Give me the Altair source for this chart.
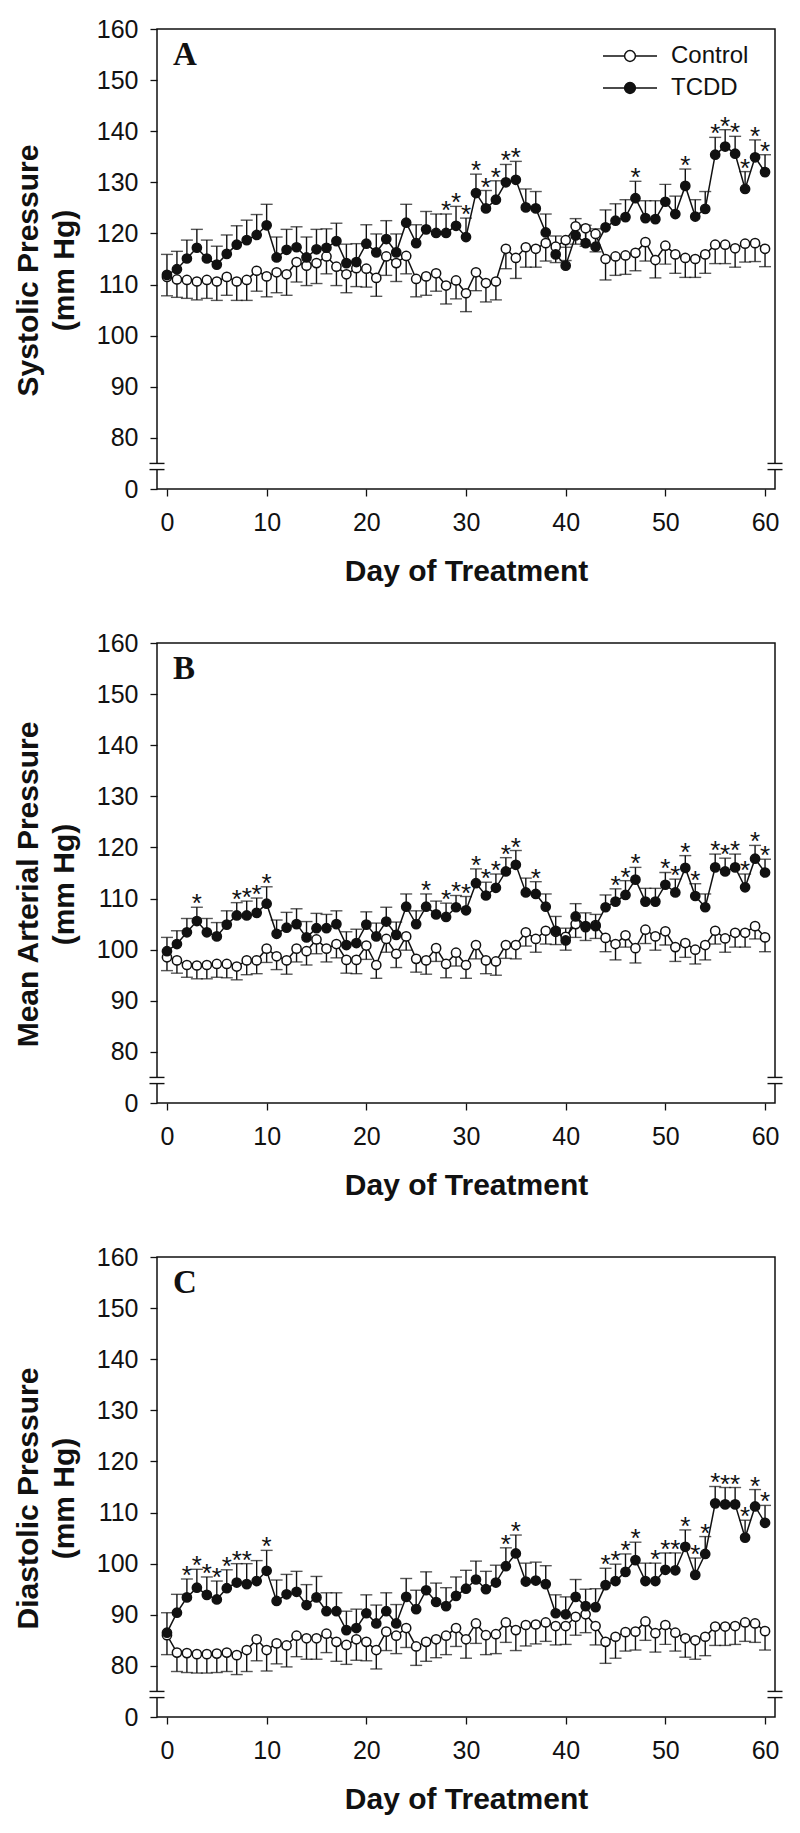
import altair as alt
import pandas as pd

days = list(range(61))

# ---- Panel A: systolic ----
A_tcdd = [111.9,113.0,115.1,117.2,115.1,113.9,116.0,117.8,118.7,119.7,121.6,
          115.3,116.8,117.3,115.3,116.9,117.2,118.5,114.2,114.4,118.0,
          116.3,118.9,116.3,122.1,118.1,120.8,120.1,120.1,121.5,119.3,
          127.9,124.9,126.6,130.0,130.5,125.1,124.9,120.2,115.9,113.7,
          119.6,118.1,117.4,121.2,122.5,123.2,126.9,123.0,122.8,126.2,
          123.8,129.3,123.3,124.8,135.4,137.0,135.6,128.7,134.9,132.0]
A_tcdd_se = [4.0,3.5,3.6,3.6,3.6,3.6,3.7,3.7,3.9,4.0,4.1,
             4.0,4.0,4.0,4.0,3.9,3.7,3.5,3.7,3.6,3.7,
             3.6,3.6,3.6,3.6,3.6,3.5,3.7,3.7,3.8,3.7,
             3.7,3.5,3.7,3.5,3.6,3.6,3.3,3.6,3.6,3.6,
             3.3,3.5,3.5,3.4,3.3,3.4,3.3,3.4,3.6,3.4,
             3.5,3.3,3.3,3.4,3.4,3.3,3.4,3.4,3.4,3.4]
A_ctrl = [111.5,111.0,110.9,110.6,110.9,110.6,111.5,110.6,110.9,112.7,111.6,
          112.4,112.0,114.4,113.7,114.2,115.5,113.5,112.0,113.2,113.1,
          111.3,115.5,114.2,115.6,111.1,111.6,112.2,109.8,110.8,108.3,
          112.4,110.3,110.6,117.0,115.2,117.3,117.0,118.1,117.4,118.7,
          121.4,121.0,119.9,115.0,115.5,115.7,116.2,118.3,114.8,117.6,
          115.9,115.2,115.0,115.9,117.8,117.8,117.1,118.0,118.1,117.0]
A_ctrl_se = [3.7,3.5,3.6,3.6,3.6,3.7,3.6,3.7,4.0,4.0,4.0,
             4.0,4.1,3.9,3.9,4.0,3.4,3.7,3.6,3.6,3.6,
             3.6,3.7,3.6,3.5,3.5,3.7,3.5,3.6,3.6,3.6,
             3.6,3.7,3.6,3.9,4.0,3.9,3.6,3.5,3.1,4.0,
             3.5,3.5,3.5,4.1,3.7,3.7,3.5,3.7,3.5,3.6,
             3.7,3.8,3.6,3.7,3.7,3.7,3.7,3.6,3.6,3.5]
A_stars = [28,29,30,31,32,33,34,35,47,52,55,56,57,58,59,60]

# ---- Panel B: mean arterial ----
B_tcdd = [99.7,101.1,103.4,105.6,103.4,102.6,104.9,106.7,106.7,107.2,109.0,
          103.1,104.3,105.0,102.4,104.2,104.2,105.0,100.9,101.3,104.9,
          102.6,105.5,102.9,108.4,105.0,108.4,106.9,106.4,108.3,107.7,
          113.0,110.6,112.1,115.3,116.6,111.2,110.9,108.4,103.7,101.8,
          106.5,104.6,104.6,108.3,109.4,110.7,113.7,109.4,109.4,112.7,
          111.2,116.0,110.5,108.3,116.1,115.3,116.1,112.2,117.8,115.1]
B_tcdd_se = [2.7,2.6,2.7,2.7,2.7,2.7,2.7,2.5,2.8,2.9,3.3,
             2.7,3.0,3.0,3.1,2.9,2.7,2.6,2.6,2.7,2.5,
             2.6,2.8,2.5,2.5,2.6,2.5,2.6,2.7,2.3,2.7,
             2.8,2.6,2.7,2.7,2.8,2.8,2.4,2.5,2.8,2.4,
             2.5,2.6,2.3,2.4,2.5,2.8,2.4,2.6,2.6,2.4,
             2.6,2.4,2.4,2.6,2.6,2.6,2.6,2.6,2.6,2.6]
B_ctrl = [98.5,97.9,97.0,96.9,97.0,97.2,97.2,96.7,97.9,97.9,100.2,
          98.7,97.9,100.2,99.7,102.0,100.2,101.1,98.0,98.0,100.8,
          97.0,102.1,99.2,102.6,98.2,97.9,100.3,97.2,99.4,97.0,
          100.9,97.9,97.7,100.9,100.9,103.4,102.1,103.7,103.5,102.5,
          105.0,104.4,104.8,102.3,101.1,102.8,100.3,103.9,102.6,103.6,
          100.5,101.3,100.0,100.9,103.7,102.2,103.3,103.3,104.6,102.4]
B_ctrl_se = [2.6,2.5,2.4,2.6,2.7,2.6,2.7,2.6,2.8,2.6,2.7,
             2.6,2.7,2.6,2.7,2.8,2.6,2.7,2.6,2.7,2.7,
             2.6,2.6,2.7,2.7,2.6,2.7,2.6,2.7,2.6,2.6,
             2.7,2.6,2.7,2.6,2.7,2.7,2.6,2.6,2.5,2.6,
             2.6,2.6,2.6,2.7,3.1,2.3,2.9,2.7,2.7,2.7,
             2.8,2.8,2.8,2.9,2.6,2.7,2.8,2.8,2.5,2.8]
B_stars = [3,7,8,9,10,26,28,29,30,31,32,33,34,35,37,45,46,47,50,51,52,53,
           55,56,57,58,59,60]

# ---- Panel C: diastolic ----
C_tcdd = [86.5,90.4,93.4,95.3,93.9,93.0,95.2,96.3,96.0,96.6,98.6,
          92.7,94.0,94.5,91.9,93.4,90.7,90.7,87.0,87.4,90.3,
          88.3,90.7,88.3,93.5,91.1,94.8,92.5,91.7,93.7,95.1,
          96.9,95.0,96.3,99.5,102.0,96.5,96.7,96.0,90.3,90.1,
          93.5,91.7,91.5,95.8,96.6,98.4,100.7,96.6,96.6,98.8,
          98.7,103.3,97.8,101.9,111.8,111.6,111.6,105.1,111.2,108.0]
C_tcdd_se = [3.9,3.6,3.6,3.6,3.5,3.6,3.6,3.7,4.0,4.0,4.0,
             4.1,3.9,4.0,4.0,4.1,3.6,3.6,3.7,3.7,3.6,
             3.6,3.6,3.7,3.6,3.7,3.6,3.7,3.6,3.7,3.6,
             3.6,3.5,3.4,3.6,3.6,3.6,3.6,3.6,3.6,3.4,
             3.4,3.3,3.6,3.3,3.3,3.5,3.5,3.5,3.5,3.3,
             3.4,3.3,3.3,3.4,3.3,3.3,3.3,3.4,3.3,3.4]
C_ctrl = [86.0,82.6,82.5,82.3,82.3,82.4,82.6,82.1,83.1,85.2,83.1,
          84.4,84.0,85.9,85.4,85.4,86.3,84.7,84.1,85.2,84.7,
          83.1,86.7,85.9,87.4,83.8,84.7,85.2,85.9,87.4,85.2,
          88.3,86.0,86.2,88.5,87.0,88.0,88.1,88.5,87.8,87.8,
          89.6,90.1,87.8,84.7,85.7,86.6,86.7,88.7,86.4,88.0,
          86.5,85.4,85.0,85.7,87.7,87.7,87.8,88.5,88.3,86.8]
C_ctrl_se = [3.8,3.7,3.8,3.7,3.7,3.7,3.7,3.8,4.2,4.2,4.1,
             4.0,4.2,4.1,4.1,4.1,3.7,3.8,3.8,4.1,3.7,
             3.7,3.7,3.5,3.8,3.7,3.8,3.6,3.7,3.6,3.7,
             3.9,3.8,3.8,3.9,4.0,4.1,3.8,3.7,3.7,3.6,
             3.6,3.6,3.7,4.2,4.2,3.7,3.6,3.7,3.7,3.8,
             3.6,3.7,3.7,3.7,3.7,3.7,3.6,3.7,3.7,3.7]
C_stars = [2,3,4,5,6,7,8,10,34,35,44,45,46,47,49,50,51,52,53,54,
           55,56,57,58,59,60]

groups = ["Control", "TCDD"]
x_ticks = [0, 10, 20, 30, 40, 50, 60]
y_ticks = [70, 80, 90, 100, 110, 120, 130, 140, 150, 160]

W, H = 618, 460
INK = "#111111"
FONT = "Liberation Sans"
# legend glyph: line - open/filled circle - line (unit = 12 px)
SYMBOL = ("M-2.25,0L-0.47,0M0.47,0L2.25,0M0.45,0A0.45,0.45,0,1,1,-0.45,0"
          "A0.45,0.45,0,1,1,0.45,0Z")


def panel_df(tcdd, tcdd_se, ctrl, ctrl_se, stars):
    rows = []
    for d in days:
        rows.append(dict(day=d, group="Control", mean=ctrl[d], se=ctrl_se[d],
                         end=round(ctrl[d] - ctrl_se[d], 2), star=False))
        rows.append(dict(day=d, group="TCDD", mean=tcdd[d], se=tcdd_se[d],
                         end=round(tcdd[d] + tcdd_se[d], 2), star=d in stars))
    return pd.DataFrame(rows)


def make_panel(df, ytitle, letter, show_legend):
    xs = alt.Scale(domain=[-1, 61], nice=False, zero=False)
    ys = alt.Scale(domain=[70, 160], nice=False, zero=False)
    x_axis = alt.Axis(values=x_ticks, title="Day of Treatment", grid=False,
                      domain=False, tickSize=7, tickWidth=1.3, tickColor=INK,
                      labelFontSize=25, labelFont=FONT, labelColor=INK,
                      labelPadding=14, titleFontSize=30, titleFont=FONT,
                      titleFontWeight="bold", titleColor=INK, titlePadding=21)
    y_axis = alt.Axis(values=y_ticks, grid=False, domain=False,
                      labelExpr="datum.value == 70 ? '0' : datum.label",
                      tickSize=7, tickWidth=1.3, tickColor=INK,
                      labelFontSize=25, labelFont=FONT, labelColor=INK,
                      labelPadding=12, title=[ytitle, "(mm Hg)"],
                      titleFontSize=30, titleFont=FONT, titleFontWeight="bold",
                      titleColor=INK, titleLineHeight=36, titleX=-114,
                      titleY=241, titleBaseline="bottom", titleAlign="center",
                      titleAngle=270)
    X = alt.X("day:Q", scale=xs, axis=x_axis)
    Y = alt.Y("mean:Q", scale=ys, axis=y_axis)
    base = alt.Chart(df)

    bars = base.mark_rule(color=INK, strokeWidth=1.4).encode(
        x=X, y=Y, y2="end:Q")
    caps = base.mark_tick(orient="horizontal", size=12, thickness=1.4,
                          color=INK).encode(x=X, y=alt.Y("end:Q", scale=ys))
    lines = base.mark_line(color=INK, strokeWidth=1.5).encode(
        x=X, y=Y, detail="group:N")
    if show_legend:
        legend = alt.Legend(title=None, orient="none", legendX=460,
                            legendY=14, symbolType=SYMBOL, symbolSize=576,
                            symbolStrokeWidth=1.5, symbolStrokeColor=INK,
                            labelFontSize=24, labelFont=FONT, labelColor=INK,
                            labelOffset=28, rowPadding=7, padding=0)
    else:
        legend = None
    points = base.mark_point(size=85, strokeWidth=1.5, stroke=INK, opacity=1,
                             fillOpacity=1).encode(
        x=X, y=Y,
        fill=alt.Fill("group:N", scale=alt.Scale(domain=groups,
                                                 range=["white", INK]),
                      legend=legend))
    stars = base.transform_filter(alt.datum.star).mark_text(
        text="*", fontSize=26, font=FONT, color=INK, baseline="alphabetic",
        dy=5).encode(x=X, y=alt.Y("end:Q", scale=ys))

    one = alt.Chart(pd.DataFrame({"k": [0]}))
    gaps = [
        one.mark_rect(color="white").encode(
            x=alt.value(xa - 3), x2=alt.value(xa + 3),
            y=alt.datum(73.8, scale=ys), y2=alt.datum(75.0))
        for xa in (0, W)
    ]
    marks = [
        one.mark_rule(color=INK, strokeWidth=1.4).encode(
            x=alt.value(xa - 7.5), x2=alt.value(xa + 7.5),
            y=alt.datum(v, scale=ys))
        for xa in (0, W) for v in (73.8, 75.0)
    ]
    label = one.mark_text(font="Liberation Serif", fontSize=33,
                          fontWeight="bold", color=INK, align="left",
                          baseline="alphabetic").encode(
        x=alt.value(16), y=alt.value(36), text=alt.value(letter))

    return alt.layer(bars, caps, lines, points, stars, *gaps, *marks,
                     label).properties(width=W, height=H)


pA = make_panel(panel_df(A_tcdd, A_tcdd_se, A_ctrl, A_ctrl_se, A_stars),
                "Systolic Pressure", "A", True)
pB = make_panel(panel_df(B_tcdd, B_tcdd_se, B_ctrl, B_ctrl_se, B_stars),
                "Mean Arterial Pressure", "B", False)
pC = make_panel(panel_df(C_tcdd, C_tcdd_se, C_ctrl, C_ctrl_se, C_stars),
                "Diastolic Pressure", "C", False)

chart = alt.vconcat(pA, pB, pC, spacing=43).resolve_scale(
    fill="independent").properties(
    padding={"left": 4, "top": 8, "right": 5, "bottom": 5}
).configure_view(stroke=INK, strokeWidth=1.5)

chart.save("out.html", embed_options={"renderer": "svg", "actions": False})
